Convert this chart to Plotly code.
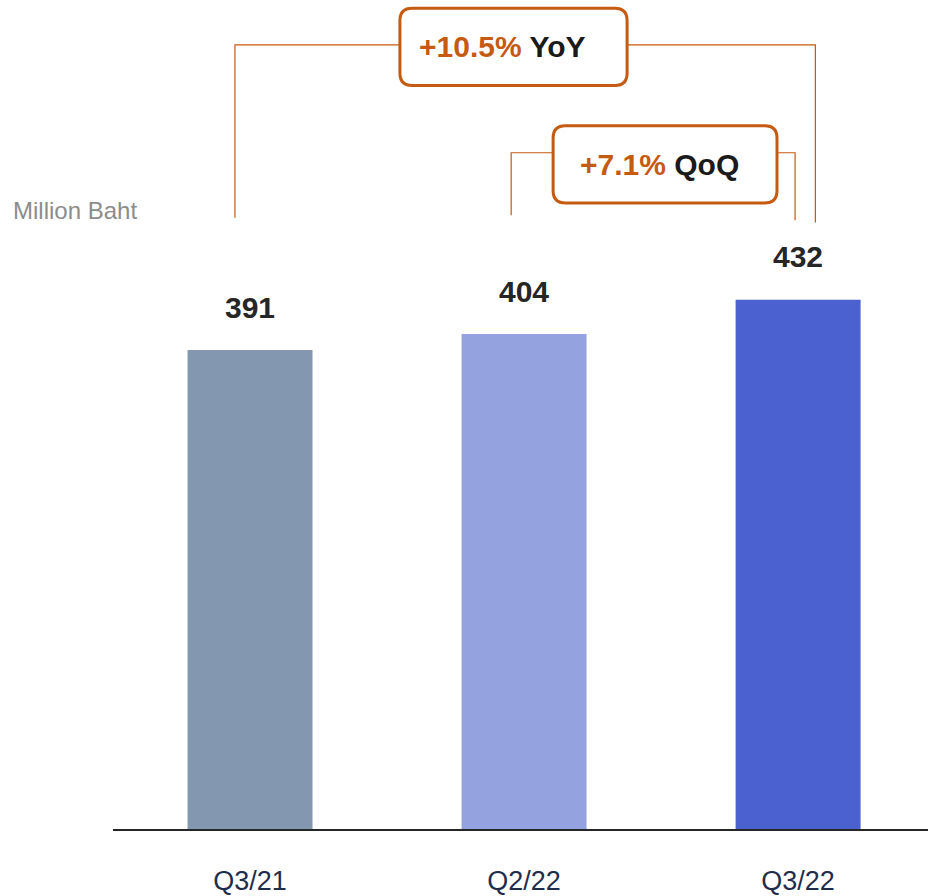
import plotly.graph_objects as go

categories = ["Q3/21", "Q2/22", "Q3/22"]
values = [391, 404, 432]
bar_colors = ["#8497B0", "#94A3E0", "#4A61CF"]
yoy_label = "+10.5%"
qoq_label = "+7.1%"

ORANGE = "#C55A11"
X_RANGE = [-0.5, 2.474]
Y_RANGE = [0, 676.7]
FONT = "Liberation Sans, Arial, sans-serif"

fig = go.Figure()
fig.add_trace(go.Bar(
    x=list(range(len(categories))), y=values,
    marker=dict(color=bar_colors, line=dict(width=0)),
    width=0.456, hoverinfo="skip",
))

# value labels
for i, v in enumerate(values):
    fig.add_annotation(x=i, y=v, text=f"<b>{v}</b>", showarrow=False,
                       yanchor="middle", yshift=43,
                       font=dict(family=FONT, size=30, color="#262626"))


def rounded_rect(x0, x1, y0, y1, rx, ry):
    return (f"M {x0+rx},{y1} L {x1-rx},{y1} Q {x1},{y1} {x1},{y1-ry} "
            f"L {x1},{y0+ry} Q {x1},{y0} {x1-rx},{y0} L {x0+rx},{y0} "
            f"Q {x0},{y0} {x0},{y0+ry} L {x0},{y1-ry} Q {x0},{y1} {x0+rx},{y1} Z")


def bracket(xl, xr, ytop, yl_bot, yr_bot, bx0, bx1, by0, by1, pct, word, dx):
    line = dict(color=ORANGE, width=1.2)
    fig.add_shape(type="path", xref="x", yref="y",
                  path=f"M {xl},{yl_bot} L {xl},{ytop} L {bx0},{ytop}", line=line)
    fig.add_shape(type="path", xref="x", yref="y",
                  path=f"M {bx1},{ytop} L {xr},{ytop} L {xr},{yr_bot}", line=line)
    fig.add_shape(type="path", xref="x", yref="y",
                  path=rounded_rect(bx0, bx1, by0, by1, 0.045, 10),
                  line=dict(color=ORANGE, width=3), fillcolor="white")
    fig.add_annotation(x=(bx0 + bx1) / 2 + dx, y=(by0 + by1) / 2, showarrow=False,
                       text=f"<b><span style='color:{ORANGE}'>{pct}</span> <span style='color:#1a1a1a'>{word}</span></b>",
                       font=dict(family=FONT, size=30),
                       xanchor="center", yanchor="middle")


# YoY: from Q3/21 to Q3/22
bracket(0 - 0.055, 2 + 0.063, 640, 499, 495, 0.547, 1.376, 607, 670, yoy_label, "YoY", -0.04)
# QoQ: from Q2/22 to Q3/22
bracket(1 - 0.047, 2 - 0.011, 552, 501, 497, 1.106, 1.923, 511, 574, qoq_label, "QoQ", -0.02)

fig.add_annotation(xref="paper", yref="paper", x=(11 - 113) / 815, y=(829 - 210) / 829,
                   xanchor="left", yanchor="middle", showarrow=False, text="Million Baht",
                   font=dict(family=FONT, size=24, color="#8C8C8C"))

fig.update_layout(
    width=928, height=896,
    margin=dict(l=113, r=0, t=0, b=67, autoexpand=False),
    paper_bgcolor="white", plot_bgcolor="white",
    showlegend=False,
    xaxis=dict(range=X_RANGE, tickmode="array", tickvals=list(range(len(categories))),
               ticktext=categories, showgrid=False, zeroline=False, automargin=False,
               showline=True, linecolor="#262626", linewidth=2,
               ticks="", ticklabelstandoff=27,
               tickfont=dict(family=FONT, size=27, color="#1F2D4D")),
    yaxis=dict(range=Y_RANGE, visible=False, showgrid=False, zeroline=False, automargin=False),
)

fig.write_html("out.html")
